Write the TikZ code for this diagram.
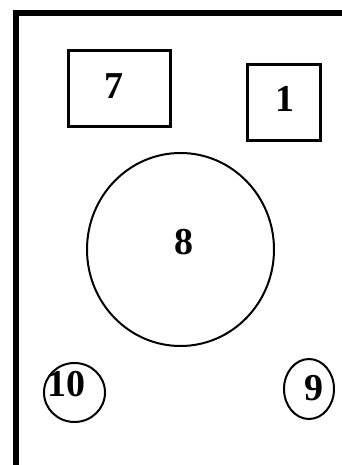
\documentclass[tikz,border=0pt]{standalone}
\usepackage{fontspec}
\setmainfont{Liberation Serif}
\usetikzlibrary{shapes.geometric}
\tikzset{
  boxshape/.style={draw=black, line width=3pt, rectangle, inner sep=0pt},
  ringshape/.style={draw=black, line width=2pt, ellipse, inner sep=0pt},
  numtext/.style={inner sep=0pt, font=\bfseries\fontsize{38}{40}\selectfont}
}
\begin{document}
\begin{tikzpicture}[x=1pt,y=-1pt]
\useasboundingbox (0,0) rectangle (342,465);
\coordinate (bl) at (16,465);
\coordinate (tl) at (16,13);
\coordinate (tr) at (342,13);
\draw[line width=6pt, line join=miter] (bl) -- (tl) -- (tr);
\node[boxshape, minimum width=102pt, minimum height=76pt] (b7) at (119.5,88.5) {};
\node[boxshape, minimum width=73pt, minimum height=76pt] (b1) at (284,102.5) {};
\node[ringshape, minimum width=187pt, minimum height=193pt] (c8) at (180.5,249.5) {};
\node[ringshape, minimum width=61pt, minimum height=59pt] (c10) at (74.5,392.5) {};
\node[ringshape, minimum width=50pt, minimum height=60pt] (c9) at (309,389) {};
\node[numtext] (t7) at (114,86) {7};
\node[numtext] (t1) at (285,98.5) {1};
\node[numtext] (t8) at (184,242) {8};
\node[numtext] (t10) at (66.5,384) {10};
\node[numtext] (t9) at (314,388.5) {9};
\end{tikzpicture}
\end{document}
